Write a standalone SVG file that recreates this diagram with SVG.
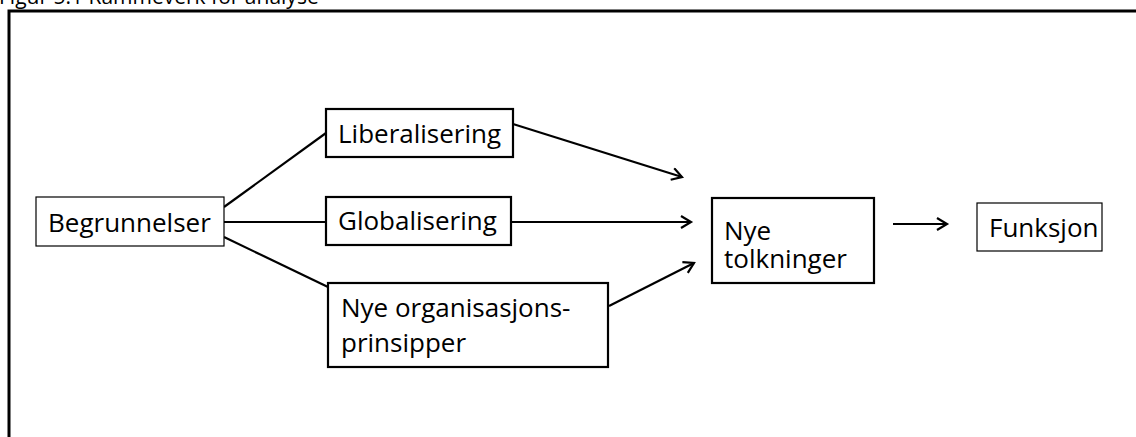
<svg xmlns="http://www.w3.org/2000/svg" width="1136" height="437" viewBox="0 0 1136 437">
<style>
text{font-family:"Open Sans","DejaVu Sans",sans-serif;fill:#000}
.lbl{font-size:26px}
.thin{fill:#fff;stroke:#000;stroke-width:1.2}
.thick{fill:#fff;stroke:#000;stroke-width:2.2}
.con{stroke:#000;stroke-width:2.2;fill:none}
</style>
<defs>
<marker id="ah" markerWidth="14" markerHeight="14" refX="11" refY="7" orient="auto" markerUnits="userSpaceOnUse">
<path d="M1,1 L11,7 L1,13" fill="none" stroke="#000" stroke-width="2.2"/>
</marker>
</defs>
<rect width="1136" height="437" fill="#fff"/>
<text x="-1" y="4" font-size="21">Figur 5.1 Rammeverk for analyse</text>
<path d="M9,437 V11 H1136" fill="none" stroke="#000" stroke-width="3"/>
<g id="connectors">
<line class="con" x1="224" y1="207" x2="326" y2="133"/>
<line class="con" x1="224" y1="222" x2="326" y2="222"/>
<line class="con" x1="224" y1="237" x2="328" y2="287"/>
<line class="con" x1="513" y1="124" x2="682" y2="177" marker-end="url(#ah)"/>
<line class="con" x1="511" y1="222" x2="691" y2="222" marker-end="url(#ah)"/>
<line class="con" x1="609" y1="306" x2="694" y2="263" marker-end="url(#ah)"/>
<line class="con" x1="893" y1="224" x2="947" y2="224" marker-end="url(#ah)"/>
</g>
<g id="begrunnelser">
<rect class="thin" x="36" y="197" width="188" height="49"/>
<text class="lbl" x="48" y="232">Begrunnelser</text>
</g>
<g id="liberalisering">
<rect class="thick" x="326" y="109" width="187" height="48"/>
<text class="lbl" x="338" y="143">Liberalisering</text>
</g>
<g id="globalisering">
<rect class="thick" x="326" y="197" width="185" height="48"/>
<text class="lbl" x="338" y="230">Globalisering</text>
</g>
<g id="nye-org">
<rect class="thick" x="328" y="283" width="280" height="84"/>
<text class="lbl" x="341" y="317">Nye organisasjons-</text>
<text class="lbl" x="341" y="352">prinsipper</text>
</g>
<g id="nye-tolkninger">
<rect class="thick" x="712" y="198" width="162" height="85"/>
<text class="lbl" x="724" y="240">Nye</text>
<text class="lbl" x="724" y="268">tolkninger</text>
</g>
<g id="funksjon">
<rect class="thin" x="977" y="203" width="125" height="48"/>
<text class="lbl" x="989" y="237">Funksjon</text>
</g>
</svg>
